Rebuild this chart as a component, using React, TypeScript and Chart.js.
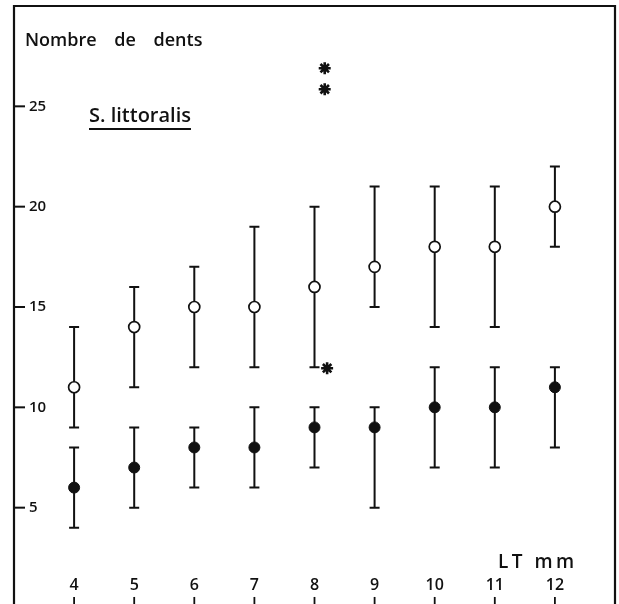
import React, { useEffect, useRef } from "react";
import { Chart, registerables } from "chart.js";

Chart.register(...registerables);

// ---- data ----
const lengths = [4, 5, 6, 7, 8, 9, 10, 11, 12];
const openMean = [11, 14, 15, 15, 16, 17, 18, 18, 20];
const openMin = [9, 11, 12, 12, 12, 15, 14, 14, 18];
const openMax = [14, 16, 17, 19, 20, 21, 21, 21, 22];
const filledMean = [6, 7, 8, 8, 9, 9, 10, 10, 11];
const filledMin = [4, 5, 6, 6, 7, 5, 7, 7, 8];
const filledMax = [8, 9, 9, 10, 10, 10, 12, 12, 12];
const yTickValues = [5, 10, 15, 20, 25];
const yTickLabels = ["5", "10", "15", "20", "25"];
const xTickLabels = ["4", "5", "6", "7", "8", "9", "10", "11", "12"];
const asteriskX = [8.17, 8.17, 8.21];
const asteriskY = [26.9, 25.85, 11.95];

const yAxisTitle = "Nombre de dents";
const speciesLabel = "S. littoralis";
const xAxisTitle = "LT mm";

const FONT = "'Open Sans', 'DejaVu Sans', sans-serif";

const decorPlugin = {
  id: "decor",
  beforeDatasetsDraw(chart: any) {
    const { ctx, chartArea, scales } = chart;
    const xs = scales.x;
    const ys = scales.y;
    ctx.save();
    ctx.strokeStyle = "#111";
    ctx.fillStyle = "#111";

    // frame
    ctx.lineWidth = 2.2;
    ctx.beginPath();
    ctx.moveTo(chartArea.left, chartArea.bottom + 5);
    ctx.lineTo(chartArea.left, chartArea.top);
    ctx.lineTo(chartArea.right, chartArea.top);
    ctx.lineTo(chartArea.right, chartArea.bottom + 5);
    ctx.stroke();

    // y tick marks and labels
    ctx.font = `600 15px ${FONT}`;
    ctx.textAlign = "left";
    ctx.textBaseline = "middle";
    yTickValues.forEach((v, i) => {
      const py = ys.getPixelForValue(v);
      ctx.lineWidth = 2;
      ctx.beginPath();
      ctx.moveTo(chartArea.left, py);
      ctx.lineTo(chartArea.left + 11, py);
      ctx.stroke();
      ctx.fillText(yTickLabels[i], chartArea.left + 15, py);
    });

    // x tick labels and small marks (inside the frame, near bottom)
    ctx.font = `600 16px ${FONT}`;
    ctx.textAlign = "center";
    ctx.textBaseline = "middle";
    lengths.forEach((v, i) => {
      const px = xs.getPixelForValue(v);
      ctx.fillText(xTickLabels[i], px, ys.getPixelForValue(1.1));
      ctx.lineWidth = 1.8;
      ctx.beginPath();
      ctx.moveTo(px, ys.getPixelForValue(0.55));
      ctx.lineTo(px, ys.getPixelForValue(0));
      ctx.stroke();
    });

    // error bars
    const drawBars = (mins: number[], maxs: number[]) => {
      ctx.lineWidth = 2;
      lengths.forEach((v, i) => {
        const px = xs.getPixelForValue(v);
        const y1 = ys.getPixelForValue(mins[i]);
        const y2 = ys.getPixelForValue(maxs[i]);
        ctx.beginPath();
        ctx.moveTo(px, y1);
        ctx.lineTo(px, y2);
        ctx.moveTo(px - 5, y1);
        ctx.lineTo(px + 5, y1);
        ctx.moveTo(px - 5, y2);
        ctx.lineTo(px + 5, y2);
        ctx.stroke();
      });
    };
    drawBars(openMin, openMax);
    drawBars(filledMin, filledMax);

    // texts
    ctx.textAlign = "left";
    ctx.textBaseline = "alphabetic";
    ctx.font = `600 18px ${FONT}`;
    try { (ctx as any).wordSpacing = "13px"; } catch (e) {}
    ctx.fillText(yAxisTitle, chartArea.left + 11, 46);
    try { (ctx as any).wordSpacing = "0px"; } catch (e) {}

    ctx.font = `600 20px ${FONT}`;
    ctx.fillText(speciesLabel, 89, 122);
    const w = ctx.measureText(speciesLabel).width;
    ctx.lineWidth = 2.2;
    ctx.beginPath();
    ctx.moveTo(89, 129);
    ctx.lineTo(89 + w, 129);
    ctx.stroke();

    ctx.font = `600 19px ${FONT}`;
    try { (ctx as any).letterSpacing = "3.5px"; } catch (e) {}
    ctx.fillText(xAxisTitle, 498, 568);
    try { (ctx as any).letterSpacing = "0px"; } catch (e) {}

    ctx.restore();
  },
};

export default function App() {
  const ref = useRef<HTMLCanvasElement | null>(null);
  useEffect(() => {
    if (!ref.current) return;
    const chart = new Chart(ref.current, {
      type: "scatter",
      data: {
        datasets: [
          {
            label: "open",
            data: lengths.map((x, i) => ({ x, y: openMean[i] })),
            pointRadius: 5.5,
            pointBackgroundColor: "#fff",
            pointBorderColor: "#111",
            pointBorderWidth: 1.7,
          },
          {
            label: "filled",
            data: lengths.map((x, i) => ({ x, y: filledMean[i] })),
            pointRadius: 5.5,
            pointBackgroundColor: "#111",
            pointBorderColor: "#111",
            pointBorderWidth: 1,
          },
          {
            label: "signif",
            data: asteriskX.map((x, i) => ({ x, y: asteriskY[i] })),
            pointStyle: "star",
            pointRadius: 6,
            pointBorderColor: "#111",
            pointBackgroundColor: "#111",
            pointBorderWidth: 2.6,
          },
        ],
      },
      options: {
        animation: false,
        responsive: false,
        devicePixelRatio: 1,
        layout: { padding: { left: 14, right: 4, top: 6, bottom: 0 }, autoPadding: false } as any,
        plugins: { legend: { display: false }, tooltip: { enabled: false } },
        scales: {
          x: { type: "linear", min: 3, max: 13, display: false },
          y: { type: "linear", min: 0, max: 30, display: false },
        },
      },
      plugins: [decorPlugin],
    });
    return () => chart.destroy();
  }, []);
  return (
    <div style={{ position: "fixed", left: 0, top: 0, width: 619, height: 604, overflow: "hidden", background: "#fff" }}>
      <canvas ref={ref} width={619} height={608} style={{ display: "block" }} />
    </div>
  );
}
